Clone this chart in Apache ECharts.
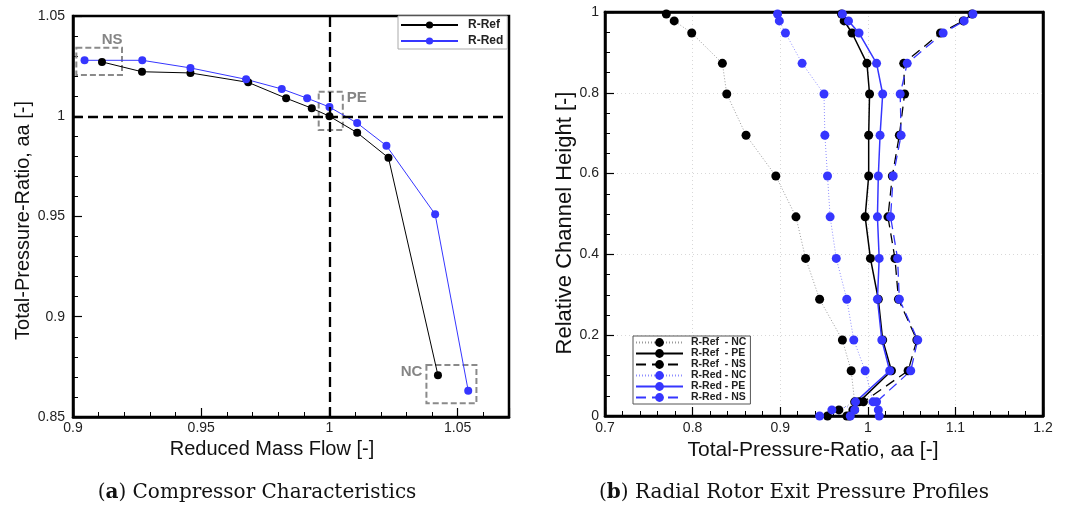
<!DOCTYPE html>
<html><head><meta charset="utf-8">
<script src="https://cdn.jsdelivr.net/npm/echarts@6/dist/echarts.min.js"></script>
<style>html,body{margin:0;padding:0;background:#fff}#c{width:1069px;height:506px}</style>
</head><body><div id="c"></div>
<script>
// ---------- (a) Compressor characteristics ----------
const massFlowRef      = [0.9113, 0.9269, 0.9458, 0.9683, 0.9831, 0.9931, 1.0000, 1.0108, 1.0230, 1.0423];
const pressureRatioRef = [1.0271, 1.0222, 1.0216, 1.0169, 1.0090, 1.0040, 1.0000, 0.9918, 0.9793, 0.8708];
const massFlowRed      = [0.9045, 0.9270, 0.9458, 0.9675, 0.9814, 0.9913, 1.0000, 1.0108, 1.0222, 1.0412, 1.0541];
const pressureRatioRed = [1.0279, 1.0279, 1.0241, 1.0184, 1.0136, 1.0090, 1.0046, 0.9966, 0.9853, 0.9511, 0.8631];
const designMassFlow = 1.0;
const designPressureRatio = 1.0;
const opPointNames = ['NS', 'PE', 'NC'];
const opPointMassFlowRange = [[0.9013, 0.9191], [0.9958, 1.0052], [1.0378, 1.0573]];
const opPointRatioRange    = [[1.0206, 1.0342], [0.9931, 1.0122], [0.8568, 0.8759]];
const leftXTicks = [0.9, 0.95, 1, 1.05];
const leftYTicks = [0.85, 0.9, 0.95, 1, 1.05];

// ---------- (b) Radial rotor exit pressure profiles ----------
const channelHeight = [0.995, 0.978, 0.948, 0.873, 0.797, 0.695, 0.594, 0.493, 0.390, 0.289, 0.188, 0.112, 0.035, 0.015, 0.0];
const refNC = [0.770, 0.779, 0.799, 0.834, 0.839, 0.861, 0.895, 0.918, 0.929, 0.945, 0.971, 0.981, 0.985, 0.967, 0.954];
const refPE = [0.970, 0.973, 0.982, 0.999, 1.002, 1.001, 1.001, 0.997, 1.003, 1.012, 1.017, 1.027, 0.990, 0.983, 0.976];
const refNS = [1.119, 1.109, 1.083, 1.041, 1.042, 1.036, 1.028, 1.023, 1.031, 1.035, 1.056, 1.046, 0.995, 0.985, 0.979];
const redNC = [0.897, 0.899, 0.906, 0.925, 0.950, 0.951, 0.954, 0.957, 0.964, 0.976, 0.984, 0.997, 1.006, 0.959, 0.945];
const redPE = [0.971, 0.978, 0.990, 1.010, 1.017, 1.014, 1.012, 1.011, 1.013, 1.011, 1.016, 1.025, 0.986, 0.985, 0.980];
const redNS = [1.120, 1.110, 1.086, 1.045, 1.037, 1.038, 1.029, 1.026, 1.034, 1.036, 1.057, 1.049, 1.010, 1.012, 1.013];
const profileNames = ['R-Ref  - NC', 'R-Ref  - PE', 'R-Ref  - NS', 'R-Red - NC', 'R-Red - PE', 'R-Red - NS'];
const rightXTicks = [0.7, 0.8, 0.9, 1, 1.1, 1.2];
const rightYTicks = [0, 0.2, 0.4, 0.6, 0.8, 1];

const FONT = '"Liberation Sans", Arial, sans-serif';
const SERIF = '"DejaVu Serif", serif';
const BLUE = '#3636ff';
const zip = (a, b) => a.map((v, i) => [v, b[i]]);
const fmt = v => String(+(+v).toFixed(2));

const chart = echarts.init(document.getElementById('c'), null, {renderer: 'canvas'});

const labelPlacement = {
  NS: {position: 'top', distance: 1, offset: [13, 2]},
  PE: {position: 'right', distance: 3, offset: [0, -13]},
  NC: {position: 'left', distance: 3, offset: [0, -12]}
};

const areaData = opPointNames.map((n, i) => [
  {name: n, coord: [opPointMassFlowRange[i][0], opPointRatioRange[i][1]],
   label: Object.assign({show: true, color: '#858585', fontWeight: 'bold', fontSize: 15, fontFamily: FONT}, labelPlacement[n])},
  {coord: [opPointMassFlowRange[i][1], opPointRatioRange[i][0]]}
]);

function profile(name, xs, color, lineColor, type, width) {
  return {
    name, type: 'line', xAxisIndex: 1, yAxisIndex: 1,
    data: zip(xs, channelHeight),
    symbol: 'circle', symbolSize: 9,
    itemStyle: {color},
    lineStyle: {color: lineColor, type, width},
    z: 3
  };
}

const axisCommon = {
  axisLine: {show: true, onZero: false, lineStyle: {color: '#000', width: 2.5}},
  axisLabel: {color: '#222', fontSize: 14, fontFamily: FONT, formatter: fmt, showMaxLabel: true},
  axisTick: {show: true, inside: true, length: 9, lineStyle: {color: '#000', width: 1.2}},
  minorTick: {show: true, length: 5, lineStyle: {color: '#000', width: 1}},
  nameLocation: 'middle',
  nameTextStyle: {color: '#111', fontSize: 20, fontFamily: FONT}
};

function borderAxis(gridIndex, position, min, max) {
  return {
    type: 'value', gridIndex, position, min, max,
    axisLine: {show: true, onZero: false, lineStyle: {color: '#000', width: 2.5}},
    axisLabel: {show: false}, axisTick: {show: false}, splitLine: {show: false}, minorTick: {show: false}
  };
}

const option = {
  animation: false,
  backgroundColor: '#fff',
  grid: [
    {left: 73, top: 16, width: 436, height: 401, show: true, borderColor: '#000', borderWidth: 2.5, backgroundColor: 'transparent'},
    {left: 605, top: 12, width: 438, height: 404, show: true, borderColor: '#000', borderWidth: 2.5, backgroundColor: 'transparent'}
  ],
  xAxis: [
    Object.assign({}, axisCommon, {
      type: 'value', gridIndex: 0, min: leftXTicks[0], max: 1.07, interval: leftXTicks[1] - leftXTicks[0],
      name: 'Reduced Mass Flow [-]', nameGap: 18,
      nameTextStyle: Object.assign({}, axisCommon.nameTextStyle, {padding: [0, 38, 0, 0]}),
      axisLabel: Object.assign({}, axisCommon.axisLabel, {margin: 4, showMaxLabel: false}),
      minorTick: Object.assign({}, axisCommon.minorTick, {splitNumber: 5}),
      splitLine: {show: false}
    }),
    Object.assign({}, axisCommon, {
      type: 'value', gridIndex: 1, min: rightXTicks[0], max: rightXTicks[rightXTicks.length - 1], interval: rightXTicks[1] - rightXTicks[0],
      name: 'Total-Pressure-Ratio, aa [-]', nameGap: 18,
      nameTextStyle: Object.assign({}, axisCommon.nameTextStyle, {fontSize: 21, padding: [0, 22, 0, 0]}),
      axisLabel: Object.assign({}, axisCommon.axisLabel, {margin: 5}),
      minorTick: Object.assign({}, axisCommon.minorTick, {splitNumber: 5}),
      splitLine: {show: true, lineStyle: {color: '#d8d8d8', type: [1, 3], width: 1}}
    }),
    borderAxis(1, 'top', rightXTicks[0], rightXTicks[rightXTicks.length - 1])
  ],
  yAxis: [
    Object.assign({}, axisCommon, {
      type: 'value', gridIndex: 0, min: leftYTicks[0], max: leftYTicks[leftYTicks.length - 1], interval: leftYTicks[1] - leftYTicks[0],
      name: 'Total-Pressure-Ratio, aa [-]', nameGap: 36,
      nameTextStyle: Object.assign({}, axisCommon.nameTextStyle, {padding: [0, 8, 0, 0]}),
      axisLabel: Object.assign({}, axisCommon.axisLabel, {margin: 8}),
      minorTick: Object.assign({}, axisCommon.minorTick, {splitNumber: 5}),
      splitLine: {show: false}
    }),
    Object.assign({}, axisCommon, {
      type: 'value', gridIndex: 1, min: rightYTicks[0], max: rightYTicks[rightYTicks.length - 1], interval: rightYTicks[1] - rightYTicks[0],
      name: 'Relative Channel Height [-]', nameGap: 23,
      nameTextStyle: Object.assign({}, axisCommon.nameTextStyle, {fontSize: 22, padding: [0, 18, 0, 0]}),
      axisLabel: Object.assign({}, axisCommon.axisLabel, {margin: 6}),
      minorTick: Object.assign({}, axisCommon.minorTick, {splitNumber: 4}),
      splitLine: {show: true, lineStyle: {color: '#d8d8d8', type: [1, 3], width: 1}}
    }),
    borderAxis(1, 'right', rightYTicks[0], rightYTicks[rightYTicks.length - 1])
  ],
  legend: [
    {
      data: ['R-Ref', 'R-Red'], orient: 'vertical', left: 398, top: 16,
      itemWidth: 57, itemHeight: 9, itemGap: 4,
      padding: [3, 4, 2, 2], borderColor: '#aaa', borderWidth: 1, borderRadius: 0, backgroundColor: '#fff',
      textStyle: {fontWeight: 'bold', fontSize: 12, color: '#222', fontFamily: FONT, padding: [0, 0, 0, 5]}
    },
    {
      data: profileNames, orient: 'vertical', left: 633, top: 336,
      itemWidth: 47, itemHeight: 11, itemGap: 0,
      padding: [1, 4, 1, 2], borderColor: '#555', borderWidth: 1, borderRadius: 0, backgroundColor: '#fff',
      textStyle: {fontWeight: 'bold', fontSize: 10.5, lineHeight: 10, color: '#222', fontFamily: FONT, padding: [0, 0, 0, 3]}
    }
  ],
  graphic: [
    {
      type: 'text', x: 257, y: 493,
      style: {
        text: '({b|a}) Compressor Characteristics', align: 'center', verticalAlign: 'middle',
        fontFamily: SERIF, fontSize: 20, fill: '#111',
        rich: {b: {fontWeight: 'bold', fontFamily: SERIF, fontSize: 20, fill: '#111'}}
      }
    },
    {
      type: 'text', x: 794, y: 493,
      style: {
        text: '({b|b}) Radial Rotor Exit Pressure Profiles', align: 'center', verticalAlign: 'middle',
        fontFamily: SERIF, fontSize: 20, fill: '#111',
        rich: {b: {fontWeight: 'bold', fontFamily: SERIF, fontSize: 20, fill: '#111'}}
      }
    }
  ],
  series: [
    {
      name: 'guides', type: 'line', xAxisIndex: 0, yAxisIndex: 0, data: [], z: 1, silent: true,
      markLine: {
        symbol: 'none', silent: true, label: {show: false},
        lineStyle: {color: '#000', type: [10, 5], width: 2.3},
        data: [{xAxis: designMassFlow}, {yAxis: designPressureRatio}]
      },
      markArea: {
        silent: true,
        itemStyle: {color: 'rgba(0,0,0,0)', borderColor: '#8a8a8a', borderWidth: 2, borderType: [6, 3]},
        data: areaData
      }
    },
    {
      name: 'R-Ref', type: 'line', xAxisIndex: 0, yAxisIndex: 0,
      data: zip(massFlowRef, pressureRatioRef), symbol: 'circle', symbolSize: 8,
      itemStyle: {color: '#000'}, lineStyle: {color: '#000', width: 1}, z: 3
    },
    {
      name: 'R-Red', type: 'line', xAxisIndex: 0, yAxisIndex: 0,
      data: zip(massFlowRed, pressureRatioRed), symbol: 'circle', symbolSize: 8,
      itemStyle: {color: BLUE}, lineStyle: {color: BLUE, width: 1}, z: 3
    },
    profile(profileNames[0], refNC, '#000', '#9a9a9a', [1, 2], 1),
    profile(profileNames[1], refPE, '#000', '#000', 'solid', 1.5),
    profile(profileNames[2], refNS, '#000', '#000', [10, 6], 1.3),
    profile(profileNames[3], redNC, BLUE, '#8f8fff', [1, 2], 1),
    profile(profileNames[4], redPE, BLUE, BLUE, 'solid', 1.5),
    profile(profileNames[5], redNS, BLUE, BLUE, [10, 6], 1.3)
  ]
};
chart.setOption(option);
</script></body></html>
